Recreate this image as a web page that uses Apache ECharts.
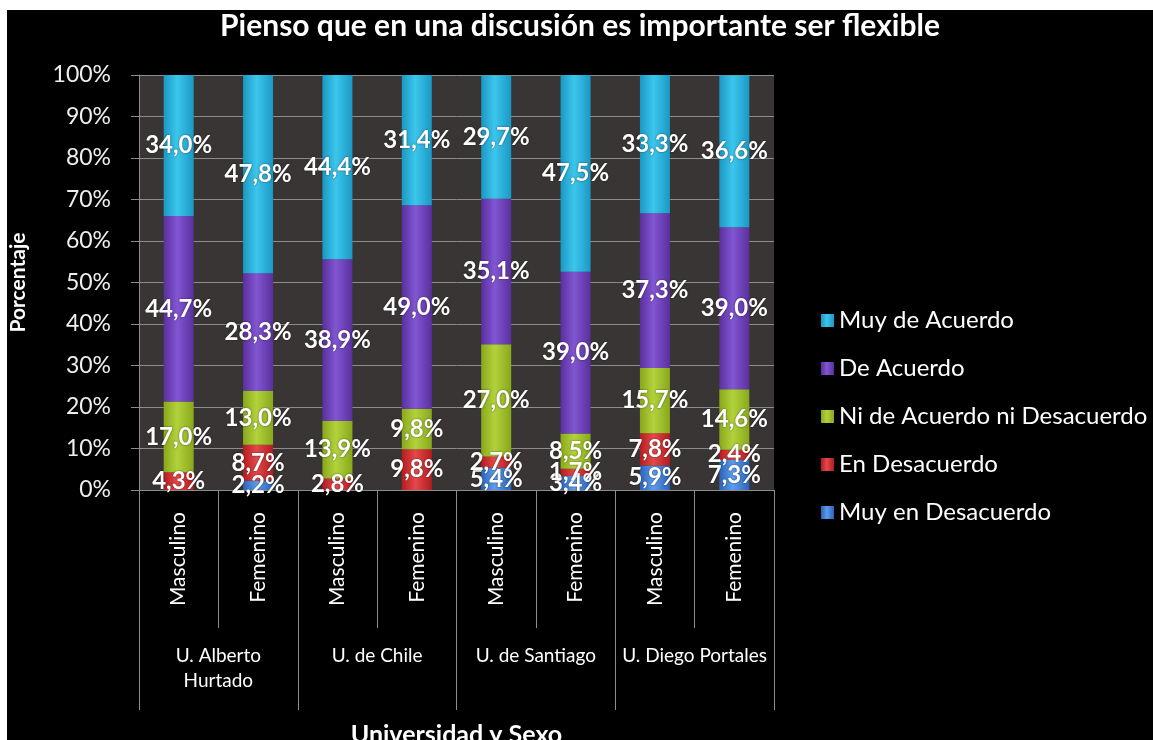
<!DOCTYPE html>
<html>
<head>
<meta charset="utf-8">
<script src="https://cdn.jsdelivr.net/npm/echarts@6/dist/echarts.min.js"></script>
<style>
	html, body { margin: 0; padding: 0; background: #ffffff; }
	#chartID { position: absolute; left: 7px; top: 10px; width: 1146px; height: 730px; background: #000000; }
</style>
</head>
<body>
<div id="chartID"></div>
<script>
//categorias
var sexoArray = ["Masculino", "Femenino", "Masculino", "Femenino", "Masculino", "Femenino", "Masculino", "Femenino"];
var univArray = ["U. Alberto\nHurtado", "U. de Chile", "U. de Santiago", "U. Diego Portales"];
var yTickArray = [0, 10, 20, 30, 40, 50, 60, 70, 80, 90, 100];

//series (porcentaje)
var muyEnDesacuerdoArray = [0, 2.2, 0, 0, 5.4, 3.4, 5.9, 7.3];
var enDesacuerdoArray = [4.3, 8.7, 2.8, 9.8, 2.7, 1.7, 7.8, 2.4];
var niNiArray = [17.0, 13.0, 13.9, 9.8, 27.0, 8.5, 15.7, 14.6];
var deAcuerdoArray = [44.7, 28.3, 38.9, 49.0, 35.1, 39.0, 37.3, 39.0];
var muyDeAcuerdoArray = [34.0, 47.8, 44.4, 31.4, 29.7, 47.5, 33.3, 36.6];

var legendArray = ["Muy de Acuerdo", "De Acuerdo", "Ni de Acuerdo ni Desacuerdo", "En Desacuerdo", "Muy en Desacuerdo"];

var FONT = 'Lato';

function grad(edge, mid) {
	return new echarts.graphic.LinearGradient(0, 0, 1, 0, [
		{offset: 0, color: edge},
		{offset: 0.45, color: mid},
		{offset: 1, color: edge}
	]);
}

function serie(name, data, edge, mid) {
	return {
		name: name,
		type: 'bar',
		stack: 'total',
		barWidth: 30,
		data: data,
		itemStyle: { color: grad(edge, mid) },
		label: {
			show: true,
			position: 'inside',
			color: '#ffffff',
			fontFamily: FONT,
			fontWeight: 'bold',
			fontSize: 24,
			textShadowColor: 'rgba(0,0,0,0.6)',
			textShadowBlur: 2,
			formatter: function(p) {
				if (!p.value) { return ''; }
				return p.value.toFixed(1).replace('.', ',') + '%';
			}
		}
	};
}

var chart = echarts.init(document.getElementById('chartID'));
var option = {
	backgroundColor: '#000000',
	animation: false,
	title: {
		text: 'Pienso que en una discusión es importante ser flexible',
		left: 568,
		textAlign: 'center',
		top: -4,
		textStyle: { color: '#ffffff', fontFamily: FONT, fontWeight: 'bold', fontSize: 30 }
	},
	legend: {
		orient: 'vertical',
		left: 809,
		top: 293,
		itemWidth: 13,
		itemHeight: 13,
		itemGap: 23,
		icon: 'rect',
		data: legendArray,
		textStyle: { color: '#ffffff', fontFamily: FONT, fontSize: 24, lineHeight: 25 }
	},
	grid: {
		left: 132,
		right: 379,
		top: 65,
		bottom: 250,
		show: true,
		backgroundColor: '#3a3535',
		borderWidth: 0,
		containLabel: false,
		outerBoundsMode: 'none'
	},
	yAxis: {
		type: 'value',
		min: yTickArray[0],
		max: yTickArray[yTickArray.length - 1],
		interval: 10,
		name: 'Porcentaje',
		nameLocation: 'middle',
		nameGap: 110,
		nameRotate: 90,
		nameTextStyle: { color: '#ffffff', fontFamily: FONT, fontWeight: 'bold', fontSize: 21 },
		axisLine: { show: true, lineStyle: { color: '#8c8c8c' } },
		axisTick: { show: true, length: 8, lineStyle: { color: '#8c8c8c' } },
		splitLine: { show: true, lineStyle: { color: '#8c8c8c' } },
		axisLabel: {
			color: '#eeeeee',
			fontFamily: FONT,
			fontSize: 23,
			margin: 28,
			formatter: '{value}%'
		}
	},
	xAxis: [{
		type: 'category',
		data: sexoArray,
		axisLine: { show: true, lineStyle: { color: '#8c8c8c' } },
		axisTick: { show: true, interval: 0, length: 138, lineStyle: { color: '#8c8c8c' } },
		axisLabel: {
			interval: 0,
			rotate: 90,
			margin: 22,
			color: '#ffffff',
			fontFamily: FONT,
			fontSize: 21
		}
	}, {
		type: 'category',
		position: 'bottom',
		data: univArray,
		name: 'Universidad y Sexo',
		nameLocation: 'middle',
		nameGap: 232,
		nameTextStyle: { color: '#ffffff', fontFamily: FONT, fontWeight: 'bold', fontSize: 25, verticalAlign: 'top' },
		axisLine: { show: false },
		axisTick: { show: true, interval: 0, length: 220, lineStyle: { color: '#8c8c8c' } },
		axisLabel: {
			interval: 0,
			margin: 153,
			color: '#ffffff',
			fontFamily: FONT,
			fontSize: 19,
			lineHeight: 25
		}
	}],
	series: [
		serie('Muy en Desacuerdo', muyEnDesacuerdoArray, '#2b63b8', '#5d9cec'),
		serie('En Desacuerdo', enDesacuerdoArray, '#b41c1f', '#e3484a'),
		serie('Ni de Acuerdo ni Desacuerdo', niNiArray, '#88a81c', '#b2d23c'),
		serie('De Acuerdo', deAcuerdoArray, '#5a2f9e', '#8156d2'),
		serie('Muy de Acuerdo', muyDeAcuerdoArray, '#1a98c4', '#3cc6ec')
	]
};
chart.setOption(option);
</script>
</body>
</html>
